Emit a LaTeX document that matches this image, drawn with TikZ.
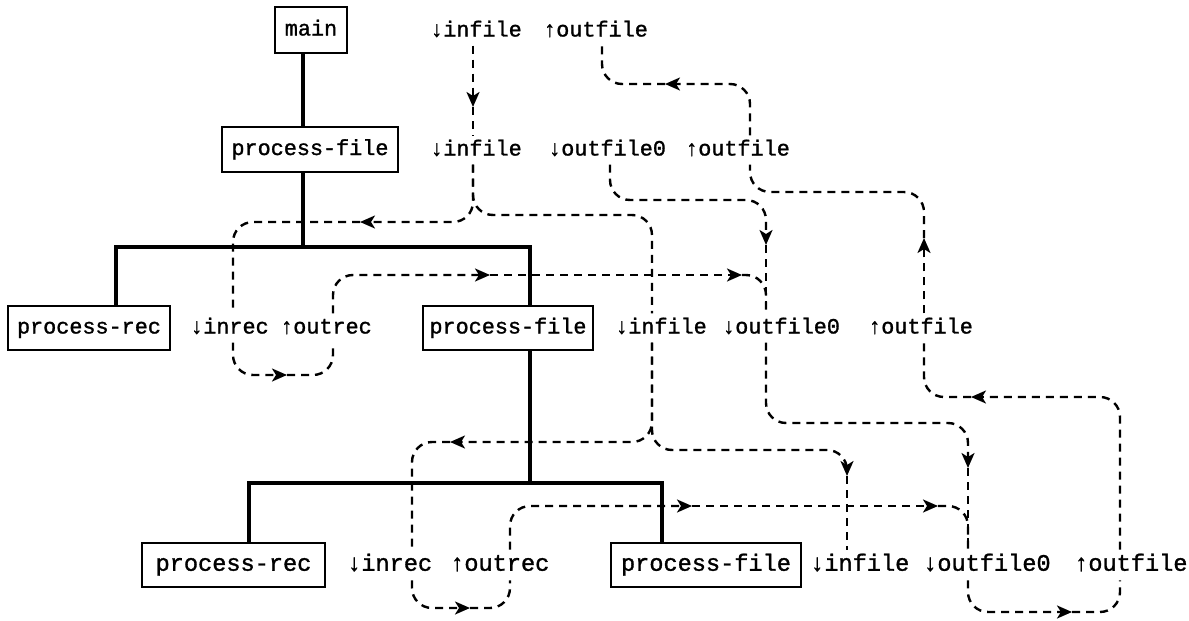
\documentclass[tikz,border=0pt]{standalone}
\usepackage{fontspec}
\newfontfamily\tw{Liberation Mono}[FakeBold=1.3]
\usetikzlibrary{arrows.meta,calc}
\begin{document}
\begin{tikzpicture}[x=1pt,y=-1pt,
  lbl/.style={inner sep=0pt, anchor=west, text height=15pt, text depth=4pt, font=\tw\fontsize{21.8}{24}\selectfont},
  lblb/.style={inner sep=0pt, anchor=west, text height=16pt, text depth=4.5pt, font=\tw\fontsize{23.6}{26}\selectfont},
  box/.style={draw, line width=2.6pt, inner sep=0pt, minimum height=44pt, text height=15pt, text depth=4pt, font=\tw\fontsize{21.8}{24}\selectfont},
  boxb/.style={box, text height=16pt, text depth=4.5pt, font=\tw\fontsize{23.6}{26}\selectfont},
  tree/.style={line width=3.4pt},
  dl/.style={line width=2.4pt, dash pattern=on 8pt off 6pt, rounded corners=20pt},
  tip/.style={-{Stealth[length=15pt,width=13pt,inset=4pt]}}]
\useasboundingbox (0,0) rectangle (1189,621);
\fill[white] (0,0) rectangle (1189,621);

% boxes
\node[box, minimum width=72pt, minimum height=46pt] (main) at (311,30) {main};
\node[box, minimum width=176pt, minimum height=45pt] (pf1) at (310,149.5) {process-file};
\node[box, minimum width=162pt] (pr2) at (89,328) {process-rec};
\node[box, minimum width=170pt] (pf2) at (508,328) {process-file};
\node[boxb, minimum width=183pt] (pr3) at (233.5,565) {process-rec};
\node[boxb, minimum width=190pt] (pf3) at (706,565) {process-file};

% labels
\node[lbl] (a0) at (430,31) {↓infile};
\node[lbl] (b0) at (543,31) {↑outfile};
\node[lbl] (a1) at (430,150) {↓infile};
\node[lbl] (c1) at (548,150) {↓outfile0};
\node[lbl] (b1) at (685,150) {↑outfile};
\node[lbl] (r2) at (190,328) {↓inrec};
\node[lbl] (s2) at (280,328) {↑outrec};
\node[lbl] (a2) at (615,328) {↓infile};
\node[lbl] (c2) at (722,328) {↓outfile0};
\node[lbl] (b2) at (868,328) {↑outfile};
\node[lblb] (r3) at (347,565) {↓inrec};
\node[lblb] (s3) at (450,565) {↑outrec};
\node[lblb] (a3) at (810,565) {↓infile};
\node[lblb] (c3) at (923,565) {↓outfile0};
\node[lblb] (b3) at (1074,565) {↑outfile};

\foreach \n/\k in {a0/43,b0/59,a1/43,c1/62,b1/65,r2/43,s2/53,a2/37,c2/44,b2/56,r3/65,s3/60,a3/37,c3/45,b3/46}{
  \coordinate (\n-t) at ($(\n.north west)+(\k,-5)$);
  \coordinate (\n-b) at ($(\n.south west)+(\k,5)$);
}

% tree
\coordinate (j1) at (303,247);
\coordinate (j2) at (530,483);
\draw[tree] ($(main.south)+(-8,0)$) -- ($(pf1.north)+(-7,0)$);
\draw[tree] ($(pf1.south)+(-7,0)$) -- (j1);
\draw[tree] ($(pr2.north)+(27,0)$) |- (j1) -| ($(pf2.north)+(22,0)$);
\draw[tree] ($(pf2.south)+(22,0)$) -- (j2);
\draw[tree] ($(pr3.north)+(15.5,0)$) |- (j2) -| ($(pf3.north)+(-44,0)$);

% infile chain
\draw[dl,tip] (a0-b) -- (a0-b |- 0,107);
\draw[dl] (a0-b |- 0,107) -- (a1-t);
\draw[dl,tip] (a1-b) |- (360,222);
\draw[dl] (360,222) -| (r2-t);
\draw[dl,tip] (r2-b) |- (287,375);
\draw[dl] (287,375) -| (s2-b);
\draw[dl,tip] (s2-t) |- (490,275);
\draw[dl,tip] (490,275) -- (742,275);
\draw[dl] (742,275) -| (c2-t);
\draw[dl] (a1-b) |- (600,215) -| (a2-t);
\draw[dl,tip] (a2-b) |- (450,442);
\draw[dl] (450,442) -| (r3-t);
\draw[dl,tip] (r3-b) |- (470,608);
\draw[dl] (470,608) -| (s3-b);
\draw[dl,tip] (s3-t) |- (692,506);
\draw[dl,tip] (692,506) -- (938,506);
\draw[dl] (938,506) -| (c3-t);
\draw[dl,tip] (a2-b) |- (760,450) -| (a3-t |- 0,476);
\draw[dl] (a3-t |- 0,476) -- (a3-t);

% outfile0 chain
\draw[dl,tip] (c1-b) |- (700,200) -| (c2-t |- 0,245);
\draw[dl] (c2-t |- 0,245) -- (c2-t);
\draw[dl,tip] (c2-b) |- (900,423) -| (c3-t |- 0,468);
\draw[dl] (c3-t |- 0,468) -- (c3-t);
\draw[dl,tip] (c3-b) |- (1072,612);
\draw[dl] (1072,612) -| (b3-b);

% outfile chain
\draw[dl,tip] (b3-t) |- (971,397);
\draw[dl] (971,397) -| (b2-b);
\draw[dl,tip] (b2-t) -- (b2-t |- 0,238);
\draw[dl] (b2-t |- 0,238) |- (800,192) -| (b1-b);
\draw[dl,tip] (b1-t) |- (665,84);
\draw[dl] (665,84) -| (b0-b);
\end{tikzpicture}
\end{document}
